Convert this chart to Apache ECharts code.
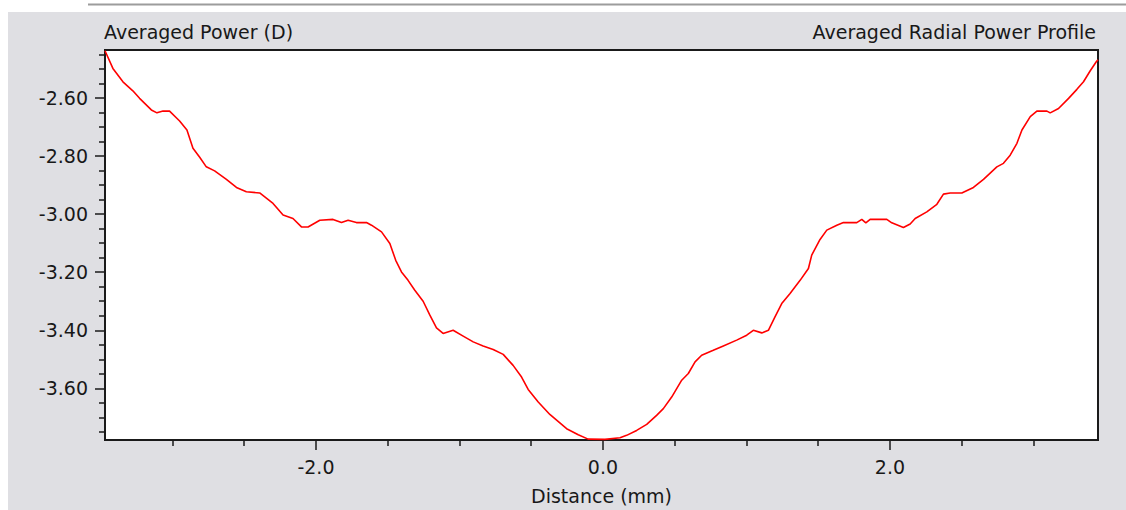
<!DOCTYPE html>
<html>
<head>
<meta charset="utf-8">
<script src="https://cdn.jsdelivr.net/npm/echarts@6/dist/echarts.min.js"></script>
<style>
html,body{margin:0;padding:0;background:#fff;}
#c{width:1126px;height:510px;}
</style>
</head>
<body>
<div id="c"></div>
<script>
var distance = [-3.47,-3.415,-3.345,-3.276,-3.229,-3.147,-3.108,-3.066,-3.020,-2.950,-2.899,-2.857,-2.810,-2.764,-2.706,-2.624,-2.554,-2.485,-2.392,-2.299,-2.229,-2.160,-2.101,-2.055,-1.973,-1.881,-1.822,-1.776,-1.718,-1.648,-1.613,-1.543,-1.485,-1.444,-1.404,-1.358,-1.311,-1.253,-1.206,-1.160,-1.114,-1.044,-0.974,-0.904,-0.835,-0.765,-0.695,-0.626,-0.567,-0.521,-0.451,-0.370,-0.253,-0.172,-0.103,0.014,0.119,0.165,0.235,0.305,0.374,0.421,0.479,0.549,0.595,0.642,0.688,0.769,0.839,0.932,1.002,1.048,1.107,1.153,1.199,1.246,1.304,1.374,1.432,1.455,1.513,1.560,1.630,1.676,1.769,1.804,1.832,1.862,1.978,2.013,2.094,2.141,2.176,2.257,2.327,2.373,2.420,2.501,2.582,2.652,2.745,2.791,2.838,2.885,2.920,2.978,3.024,3.094,3.117,3.175,3.245,3.303,3.349,3.396,3.438,3.45];
var power = [-2.437,-2.498,-2.544,-2.575,-2.601,-2.641,-2.651,-2.645,-2.645,-2.679,-2.710,-2.773,-2.804,-2.837,-2.851,-2.880,-2.908,-2.923,-2.927,-2.963,-3.003,-3.015,-3.044,-3.044,-3.021,-3.018,-3.029,-3.021,-3.029,-3.029,-3.038,-3.061,-3.101,-3.159,-3.199,-3.228,-3.262,-3.300,-3.348,-3.392,-3.411,-3.400,-3.420,-3.440,-3.454,-3.466,-3.483,-3.521,-3.561,-3.604,-3.647,-3.690,-3.739,-3.760,-3.775,-3.776,-3.770,-3.762,-3.745,-3.724,-3.693,-3.670,-3.630,-3.572,-3.549,-3.509,-3.486,-3.469,-3.454,-3.434,-3.417,-3.400,-3.409,-3.400,-3.354,-3.308,-3.273,-3.228,-3.187,-3.141,-3.087,-3.055,-3.038,-3.029,-3.029,-3.018,-3.030,-3.018,-3.018,-3.030,-3.046,-3.034,-3.015,-2.992,-2.966,-2.931,-2.927,-2.927,-2.908,-2.880,-2.837,-2.825,-2.797,-2.756,-2.710,-2.664,-2.645,-2.645,-2.651,-2.636,-2.601,-2.570,-2.544,-2.506,-2.475,-2.468];
var xMajorTicks = [-2, 0, 2];
var xMinorTicks = [-3, -2.5, -1.5, -1, -0.5, 0.5, 1, 1.5, 2.5, 3];
var yMajorTicks = [-3.6, -3.4, -3.2, -3.0, -2.8, -2.6];
var yMinorTicks = [-3.75, -3.7, -3.65, -3.55, -3.5, -3.45, -3.35, -3.3, -3.25, -3.15, -3.1, -3.05, -2.95, -2.9, -2.85, -2.75, -2.7, -2.65, -2.55, -2.5, -2.45];
var xRange = [-3.47, 3.45];
var yRange = [-3.778, -2.4345];

var FONT = 'DejaVu Sans';
var FS = 19;
var TXT = '#181818';
var AX = '#1a1a1a';

var chart = echarts.init(document.getElementById('c'), null, {renderer: 'svg'});
var data = distance.map(function (d, i) { return [d, power[i]]; });

chart.setOption({
  backgroundColor: '#ffffff',
  animation: false,
  graphic: [
    {type: 'rect', z: -10, shape: {x: 8, y: 12, width: 1118, height: 498}, style: {fill: '#dfdfe3'}},
    {type: 'line', z: -10, shape: {x1: 88, y1: 4.5, x2: 1126, y2: 4.5}, style: {stroke: '#9c9c9c', lineWidth: 2}}
  ],
  title: [
    {text: 'Averaged Power (D)', left: 104, top: 22, padding: 0,
     textStyle: {fontFamily: FONT, fontSize: FS, fontWeight: 'normal', color: TXT}},
    {text: 'Averaged Radial Power Profile', right: 30, top: 22, padding: 0,
     textStyle: {fontFamily: FONT, fontSize: FS, fontWeight: 'normal', color: TXT}}
  ],
  grid: {left: 105, right: 28, top: 50, bottom: 70, show: true, backgroundColor: '#ffffff', borderColor: AX, borderWidth: 2},
  xAxis: [
    {type: 'value', min: xRange[0], max: xRange[1], position: 'bottom',
     name: 'Distance (mm)', nameLocation: 'middle', nameGap: 46,
     nameTextStyle: {fontFamily: FONT, fontSize: FS, color: TXT},
     axisLine: {show: true, onZero: false, lineStyle: {color: AX, width: 2}},
     axisTick: {show: true, length: 10, lineStyle: {color: AX, width: 1.5}, customValues: xMajorTicks},
     axisLabel: {show: true, margin: 17, fontFamily: FONT, fontSize: FS, color: TXT, customValues: xMajorTicks,
                 formatter: function (v) { return v.toFixed(1); }},
     splitLine: {show: false}},
    {type: 'value', min: xRange[0], max: xRange[1], position: 'bottom',
     axisLine: {show: false, onZero: false},
     axisTick: {show: true, length: 6, lineStyle: {color: AX, width: 1.5}, customValues: xMinorTicks},
     axisLabel: {show: false},
     splitLine: {show: false}}
  ],
  yAxis: [
    {type: 'value', min: yRange[0], max: yRange[1], position: 'left',
     axisLine: {show: true, onZero: false, lineStyle: {color: AX, width: 2}},
     axisTick: {show: true, length: 10, lineStyle: {color: AX, width: 1.5}, customValues: yMajorTicks},
     axisLabel: {show: true, margin: 17, fontFamily: FONT, fontSize: FS, color: TXT, customValues: yMajorTicks,
                 formatter: function (v) { return v.toFixed(2); }},
     splitLine: {show: false}},
    {type: 'value', min: yRange[0], max: yRange[1], position: 'left',
     axisLine: {show: false, onZero: false},
     axisTick: {show: true, length: 6, lineStyle: {color: AX, width: 1.5}, customValues: yMinorTicks},
     axisLabel: {show: false},
     splitLine: {show: false}}
  ],
  series: [{
    type: 'line', xAxisIndex: 0, yAxisIndex: 0, data: data,
    showSymbol: false, symbol: 'none', smooth: false,
    lineStyle: {color: '#ff0000', width: 1.6}
  }]
});
</script>
</body>
</html>
